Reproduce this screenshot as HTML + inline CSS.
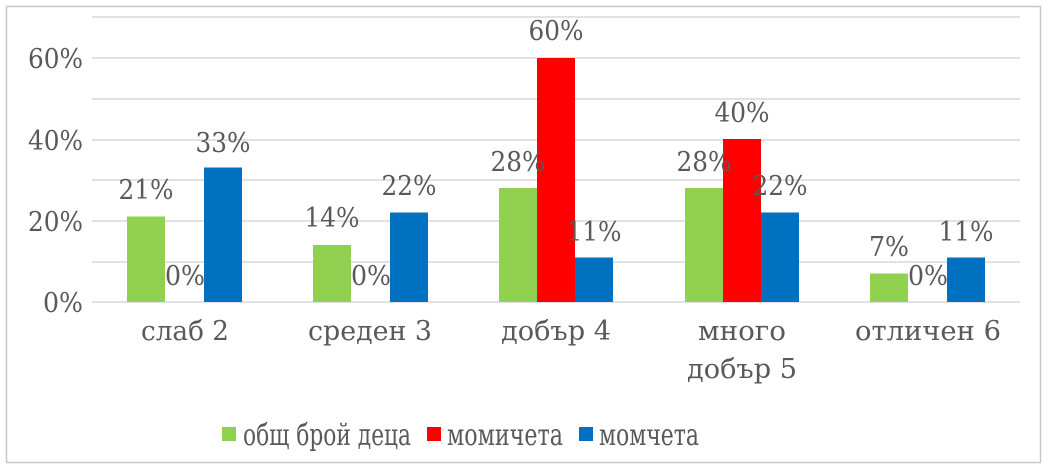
<!DOCTYPE html>
<html><head><meta charset="utf-8"><style>body{margin:0;background:#fff}svg{display:block}</style></head><body>
<svg width="1048" height="469" xmlns="http://www.w3.org/2000/svg" font-family="DejaVu Serif, Liberation Serif, serif" fill="#595959">
<rect x="6.5" y="6.5" width="1034" height="456" fill="#fff" stroke="#c8c8c8" stroke-width="1.5"/>
<g stroke="#d9d9d9" stroke-width="1.5">
<line x1="92" x2="1020" y1="17" y2="17"/><line x1="92" x2="1020" y1="58" y2="58"/><line x1="92" x2="1020" y1="99" y2="99"/><line x1="92" x2="1020" y1="140" y2="140"/><line x1="92" x2="1020" y1="180" y2="180"/><line x1="92" x2="1020" y1="221" y2="221"/><line x1="92" x2="1020" y1="262" y2="262"/><line x1="92" x2="1020" y1="302" y2="302"/>
</g>
<g font-size="27" text-anchor="end">
<text x="83" y="68" textLength="55" lengthAdjust="spacingAndGlyphs">60%</text><text x="83" y="150" textLength="55" lengthAdjust="spacingAndGlyphs">40%</text><text x="83" y="231" textLength="55" lengthAdjust="spacingAndGlyphs">20%</text><text x="83" y="312" textLength="40" lengthAdjust="spacingAndGlyphs">0%</text>
</g>
<g>
<rect x="127" y="216.5" width="38" height="85.5" fill="#92d050"/>
<rect x="204" y="167.5" width="38" height="134.5" fill="#0070c0"/>
<rect x="313" y="245" width="38" height="57" fill="#92d050"/>
<rect x="390" y="212.5" width="38" height="89.5" fill="#0070c0"/>
<rect x="499" y="188" width="38" height="114" fill="#92d050"/>
<rect x="537" y="58" width="38" height="244" fill="#ff0000"/>
<rect x="575" y="257.5" width="38" height="44.5" fill="#0070c0"/>
<rect x="685" y="188" width="38" height="114" fill="#92d050"/>
<rect x="723" y="139" width="38" height="163" fill="#ff0000"/>
<rect x="761" y="212.5" width="38" height="89.5" fill="#0070c0"/>
<rect x="870" y="273.5" width="38" height="28.5" fill="#92d050"/>
<rect x="947" y="257.5" width="38" height="44.5" fill="#0070c0"/>
</g>
<g font-size="27" text-anchor="middle">
<text x="146" y="199" textLength="55" lengthAdjust="spacingAndGlyphs">21%</text><text x="185" y="285" textLength="40" lengthAdjust="spacingAndGlyphs">0%</text><text x="223" y="152" textLength="55" lengthAdjust="spacingAndGlyphs">33%</text>
<text x="332" y="227" textLength="55" lengthAdjust="spacingAndGlyphs">14%</text><text x="371" y="285" textLength="40" lengthAdjust="spacingAndGlyphs">0%</text><text x="409" y="195" textLength="55" lengthAdjust="spacingAndGlyphs">22%</text>
<text x="518" y="171" textLength="55" lengthAdjust="spacingAndGlyphs">28%</text><text x="556" y="40" textLength="55" lengthAdjust="spacingAndGlyphs">60%</text><text x="594" y="241" textLength="55" lengthAdjust="spacingAndGlyphs">11%</text>
<text x="704" y="171" textLength="55" lengthAdjust="spacingAndGlyphs">28%</text><text x="742" y="122" textLength="55" lengthAdjust="spacingAndGlyphs">40%</text><text x="780" y="195" textLength="55" lengthAdjust="spacingAndGlyphs">22%</text>
<text x="889" y="256" textLength="40" lengthAdjust="spacingAndGlyphs">7%</text><text x="928" y="285" textLength="40" lengthAdjust="spacingAndGlyphs">0%</text><text x="966" y="241" textLength="55" lengthAdjust="spacingAndGlyphs">11%</text>
</g>
<g font-size="27" text-anchor="middle">
<text x="185" y="340" textLength="88" lengthAdjust="spacingAndGlyphs">слаб 2</text>
<text x="370" y="340" textLength="124" lengthAdjust="spacingAndGlyphs">среден 3</text>
<text x="556" y="340" textLength="110" lengthAdjust="spacingAndGlyphs">добър 4</text>
<text x="742" y="340" textLength="88" lengthAdjust="spacingAndGlyphs">много</text>
<text x="742" y="378" textLength="110" lengthAdjust="spacingAndGlyphs">добър 5</text>
<text x="928" y="340" textLength="146" lengthAdjust="spacingAndGlyphs">отличен 6</text>
</g>
<g font-size="30">
<rect x="222" y="427" width="14" height="14" fill="#92d050"/>
<text x="243" y="445" textLength="168" lengthAdjust="spacingAndGlyphs">общ брой деца</text>
<rect x="427" y="427" width="14" height="14" fill="#ff0000"/>
<text x="447" y="445" textLength="116" lengthAdjust="spacingAndGlyphs">момичета</text>
<rect x="579" y="427" width="14" height="14" fill="#0070c0"/>
<text x="599" y="445" textLength="100" lengthAdjust="spacingAndGlyphs">момчета</text>
</g>
</svg>
</body></html>
